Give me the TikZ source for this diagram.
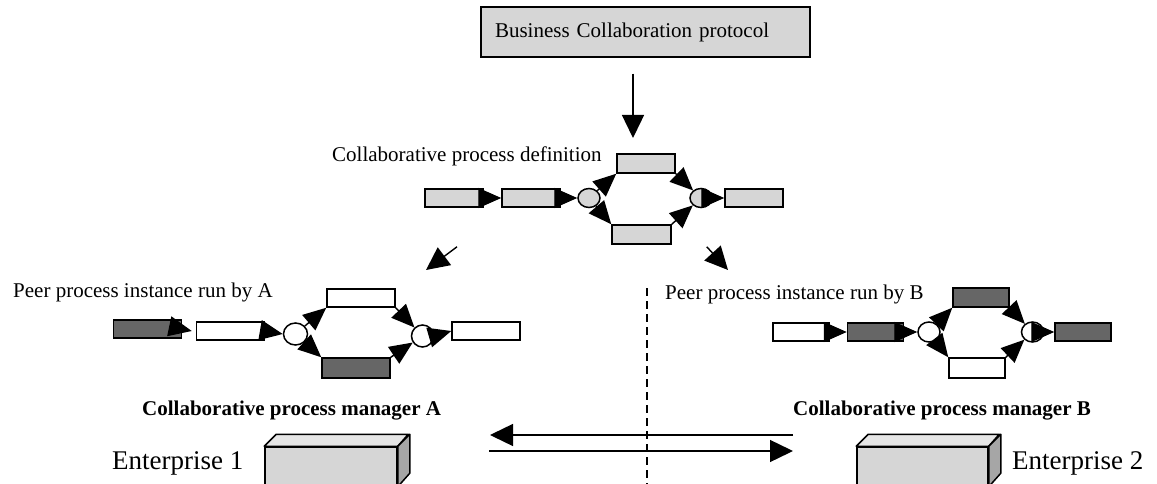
\documentclass[tikz,border=0pt]{standalone}
\usepackage{fontspec}
\setmainfont{Liberation Serif}
\usetikzlibrary{arrows.meta,shapes.geometric}

\definecolor{lightbox}{HTML}{D6D6D6}
\definecolor{darkbox}{HTML}{666666}
\definecolor{sidebox}{HTML}{A6A6A6}

\begin{document}
\begin{tikzpicture}[
  x=1pt, y=-1pt,
  stepbox/.style={
    rectangle,
    draw,
    line width=1.5pt,
    inner sep=0pt,
    minimum height=18pt
  },
  greystep/.style={stepbox, fill=lightbox, minimum width=58pt},
  darkA/.style={stepbox, fill=darkbox, minimum width=68pt},
  whiteA/.style={stepbox, fill=white, minimum width=68pt},
  darkB/.style={stepbox, fill=darkbox, minimum width=56pt},
  whiteB/.style={stepbox, fill=white, minimum width=56pt},
  gate/.style={ellipse, draw, line width=1.5pt, inner sep=0pt,
    minimum width=22pt, minimum height=19pt},
  flow/.style={line width=1.4pt, -{Triangle[length=23pt,width=20pt]}},
  bigflow/.style={line width=1.4pt, -{Triangle[length=23pt,width=22pt]}},
  txt/.style={font=\fontsize{21}{25}\selectfont, inner sep=0pt, anchor=base west},
  face/.style={draw, line width=1.5pt, line join=round}
]
  \useasboundingbox (0,0) rectangle (1157,484);

  % protocol
  \node[draw, line width=1.5pt, fill=lightbox, text width=301pt, inner xsep=14pt,
    minimum height=50pt, align=left, font=\fontsize{21}{25}\selectfont]
    (proto) at (645.5,32) {Business Collaboration protocol};
  \coordinate (down) at (633,138);
  \draw[bigflow] ([xshift=-12.5pt,yshift=-16pt]proto.south) -- (down);

  % collaborative process definition
  \node[txt] (deflabel) at (332,162) {Collaborative process definition};
  \node[greystep] (g1) at (454,198) {};
  \node[greystep] (g2) at (531,198) {};
  \node[gate, fill=lightbox] (cg1) at (589,198) {};
  \node[greystep, minimum height=19pt] (gt) at (646,163.5) {};
  \node[greystep, minimum height=19pt, minimum width=59pt] (gb) at (641.5,234.5) {};
  \node[gate, fill=lightbox] (cg2) at (701,198) {};
  \node[greystep] (g5) at (754,198) {};

  \draw[flow] (g1.east) -- (g2.west);
  \draw[flow] (g2.east) -- (cg1.west);
  \draw[flow] (cg1) -- (gt.south west);
  \draw[flow] (cg1) -- (gb.north west);
  \draw[flow] (gt.south east) -- (cg2);
  \draw[flow] (gb.north east) -- (cg2);
  \draw[flow] (cg2.east) -- (g5.west);

  \coordinate (toA) at (426,270);
  \coordinate (toB) at (728,270);
  \draw[bigflow] ([shift={(3,39)}]g1.south) -- (toA);
  \draw[bigflow] ([shift={(35,2)}]gb.south east) -- (toB);

  % peer A
  \node[txt] (peerA) at (13,297) {Peer process instance run by A};
  \node[darkA] (a1) at (147.5,329) {};
  \node[whiteA] (a2) at (230.5,331) {};
  \node[gate, minimum width=24pt, minimum height=22pt] (ca1) at (295.5,334) {};
  \node[whiteA] (at) at (361,298) {};
  \node[darkA, minimum height=20pt] (ab) at (356,368) {};
  \node[gate, minimum width=22pt, minimum height=22pt] (ca2) at (422.5,336) {};
  \node[whiteA] (a5) at (486,331) {};

  \draw[flow] (a1.east) -- ([xshift=-4pt]a2.west);
  \draw[flow] (a2.east) -- (ca1.west);
  \draw[flow] (ca1) -- (at.south west);
  \draw[flow] (ca1) -- (ab.north west);
  \draw[flow] (at.south east) -- (ca2);
  \draw[flow] (ab.north east) -- (ca2);
  \draw[flow] (ca2.east) -- (a5.west);

  % peer B
  \node[txt] (peerB) at (665,299) {Peer process instance run by B};
  \node[whiteB] (b1) at (801,332) {};
  \node[darkB] (b2) at (875.5,332) {};
  \node[gate, minimum height=20pt] (cb1) at (929,332) {};
  \node[darkB, minimum height=19pt] (bt) at (981,297.5) {};
  \node[whiteB, minimum height=20pt] (bb) at (977,368) {};
  \node[gate, minimum height=20pt] (cb2) at (1032.5,332) {};
  \node[darkB] (b5) at (1083,332) {};

  \draw[flow] (b1.east) -- (b2.west);
  \draw[flow] (b2.east) -- (cb1.west);
  \draw[flow] (cb1) -- (bt.south west);
  \draw[flow] (cb1) -- (bb.north west);
  \draw[flow] (bt.south east) -- (cb2);
  \draw[flow] (bb.north east) -- (cb2);
  \draw[flow] (cb2.east) -- (b5.west);

  % separation
  \draw[line width=1.3pt, dash pattern=on 8pt off 5pt] (647,288) -- (647,484);

  % managers
  \node[txt, font=\fontsize{21}{25}\selectfont\bfseries] (mgrA) at (142,415)
    {Collaborative process manager A};
  \node[txt, font=\fontsize{21}{25}\selectfont\bfseries] (mgrB) at (793,415)
    {Collaborative process manager B};

  % enterprises
  \node[txt, font=\fontsize{27}{31}\selectfont] (entAtxt) at (112,469) {Enterprise 1};
  \node[txt, font=\fontsize{27}{31}\selectfont] (entBtxt) at (1012,469) {Enterprise 2};

  \node[draw, line width=1.5pt, fill=lightbox, minimum width=132pt, minimum height=39pt,
    inner sep=0pt] (entA) at (331,466.5) {};
  \draw[face, fill=lightbox!60!white] (entA.north west) -- ++(12,-12) -- ++(132,0)
    -- (entA.north east) -- cycle;
  \draw[face, fill=sidebox] (entA.north east) -- ++(12,-12) -- ++(0,39)
    -- (entA.south east) -- cycle;

  \node[draw, line width=1.5pt, fill=lightbox, minimum width=131pt, minimum height=39pt,
    inner sep=0pt] (entB) at (922.5,466.5) {};
  \draw[face, fill=lightbox!60!white] (entB.north west) -- ++(12,-12) -- ++(131,0)
    -- (entB.north east) -- cycle;
  \draw[face, fill=sidebox] (entB.north east) -- ++(12,-12) -- ++(0,39)
    -- (entB.south east) -- cycle;

  % messages
  \coordinate (outB) at (793,435);
  \coordinate (inA) at (490,435);
  \coordinate (outA) at (489,451);
  \coordinate (inB) at (793,451);
  \draw[bigflow] (outB) -- (inA);
  \draw[bigflow] (outA) -- (inB);
\end{tikzpicture}
\end{document}
